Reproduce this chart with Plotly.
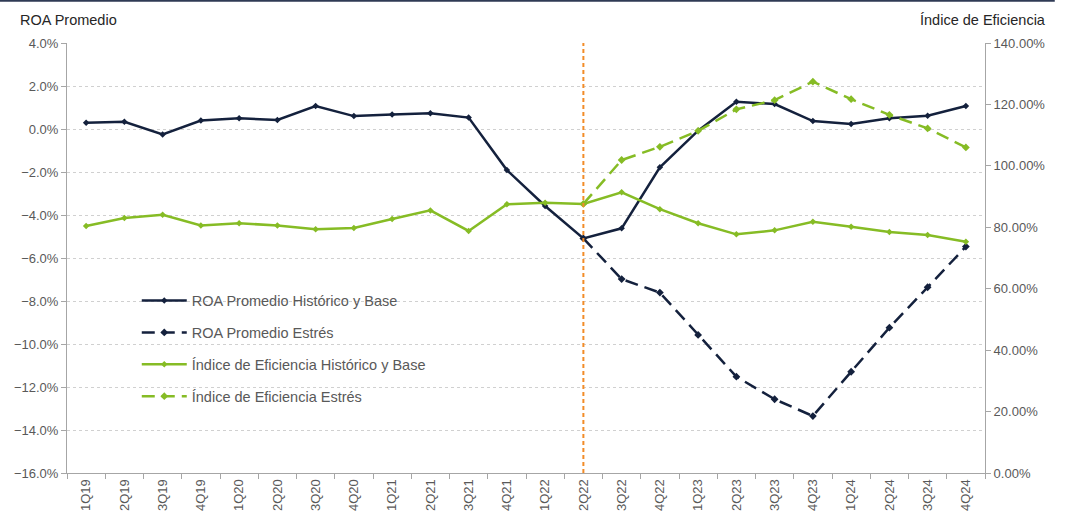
import plotly.graph_objects as go

quarters = ["1Q19", "2Q19", "3Q19", "4Q19", "1Q20", "2Q20", "3Q20", "4Q20",
            "1Q21", "2Q21", "3Q21", "4Q21", "1Q22", "2Q22", "3Q22", "4Q22",
            "1Q23", "2Q23", "3Q23", "4Q23", "1Q24", "2Q24", "3Q24", "4Q24"]

roa_base = [0.29, 0.34, -0.25, 0.39, 0.50, 0.42, 1.07, 0.60, 0.68, 0.73, 0.53, -1.91,
            -3.58, -5.09, -4.62, -1.78, -0.08, 1.27, 1.16, 0.37, 0.23, 0.50, 0.62, 1.07]

stress_quarters = ["2Q22", "3Q22", "4Q22", "1Q23", "2Q23", "3Q23", "4Q23",
                   "1Q24", "2Q24", "3Q24", "4Q24"]
roa_stress = [-5.09, -6.98, -7.61, -9.58, -11.52, -12.57, -13.35, -11.29, -9.24, -7.36, -5.47]

eff_base = [80.4, 83.0, 84.1, 80.6, 81.3, 80.6, 79.4, 79.8, 82.7, 85.5, 78.8, 87.5,
            88.0, 87.6, 91.4, 85.9, 81.3, 77.7, 79.0, 81.8, 80.2, 78.5, 77.5, 75.3]
eff_stress = [87.6, 101.9, 106.2, 111.4, 118.4, 121.4, 127.4, 121.7, 116.6, 112.2, 106.0]

NAVY = "#14213d"
GREEN = "#86bc25"
ORANGE = "#f28c28"
GRAY = "#595959"
FONT = "Liberation Sans, Arial, sans-serif"
DASH = "13px,7px"

fig = go.Figure()

fig.add_trace(go.Scatter(
    x=quarters, y=eff_base, name="Índice de Eficiencia Histórico y Base",
    mode="lines+markers", yaxis="y2", legendgroup="c", legendrank=3,
    line=dict(color=GREEN, width=2.5), marker=dict(symbol="diamond", size=5, color=GREEN)))
fig.add_trace(go.Scatter(
    x=stress_quarters, y=eff_stress, name="Índice de Eficiencia Estrés",
    mode="lines+markers", yaxis="y2", legendgroup="d", legendrank=4,
    line=dict(color=GREEN, width=2.5, dash=DASH), marker=dict(symbol="diamond", size=6, color=GREEN)))
fig.add_trace(go.Scatter(
    x=quarters, y=roa_base, name="ROA Promedio Histórico y Base",
    mode="lines+markers", yaxis="y", legendgroup="a", legendrank=1,
    line=dict(color=NAVY, width=2.5), marker=dict(symbol="diamond", size=5, color=NAVY)))
fig.add_trace(go.Scatter(
    x=stress_quarters, y=roa_stress, name="ROA Promedio Estrés",
    mode="lines+markers", yaxis="y", legendgroup="b", legendrank=2,
    line=dict(color=NAVY, width=2.5, dash=DASH), marker=dict(symbol="diamond", size=6, color=NAVY)))

fig.update_layout(
    width=1072, height=514,
    margin=dict(l=67, r=87, t=43, b=41, autoexpand=False),
    paper_bgcolor="white", plot_bgcolor="white",
    font=dict(family=FONT, size=13, color=GRAY),
    showlegend=True,
    legend=dict(x=0.076, y=0.438, xanchor="left", yanchor="top",
                bgcolor="rgba(0,0,0,0)", font=dict(size=14.5, color=GRAY),
                tracegroupgap=10, itemwidth=45),
    xaxis=dict(type="category", categoryorder="array", categoryarray=quarters,
               range=[-0.5, 23.5], tickangle=-90, tickson="boundaries",
               ticks="outside", ticklen=5, tickcolor="#a6a6a6", automargin=False,
               showline=True, linecolor="#a6a6a6", linewidth=1,
               showgrid=False, tickfont=dict(size=13, color=GRAY)),
    yaxis=dict(range=[-16, 4], dtick=2, tickformat=".1f", ticksuffix="%",
               ticks="outside", ticklen=5, tickcolor="#a6a6a6", automargin=False,
               showline=True, linecolor="#a6a6a6", linewidth=1,
               showgrid=True, gridcolor="#d0d0d0", griddash="dot", gridwidth=1,
               zeroline=False, tickfont=dict(size=13, color=GRAY)),
    yaxis2=dict(range=[0, 140], dtick=20, tickformat=".2f", ticksuffix="%",
                overlaying="y", side="right", automargin=False,
                ticks="outside", ticklen=5, tickcolor="#a6a6a6",
                showline=True, linecolor="#a6a6a6", linewidth=1,
                showgrid=False, zeroline=False, tickfont=dict(size=13, color=GRAY)),
    annotations=[
        dict(text="ROA Promedio", xref="paper", yref="paper", x=-0.0535, y=1.053,
             xanchor="left", yanchor="middle", showarrow=False,
             font=dict(size=14.5, color="#262626")),
        dict(text="Índice de Eficiencia", xref="paper", yref="paper", x=1.069, y=1.053,
             xanchor="right", yanchor="middle", showarrow=False,
             font=dict(size=14.5, color="#262626")),
    ],
    shapes=[
        dict(type="line", xref="x", yref="paper", x0="2Q22", x1="2Q22", y0=0, y1=1,
             line=dict(color=ORANGE, width=2, dash="4px,3px")),
        dict(type="line", xref="paper", yref="paper", x0=-0.073, x1=1.076, y0=1.098, y1=1.098,
             line=dict(color="#2f3a55", width=2)),
    ],
)

fig.write_html("out.html", config={"displayModeBar": False},
               post_script="document.body.style.margin='0';")
